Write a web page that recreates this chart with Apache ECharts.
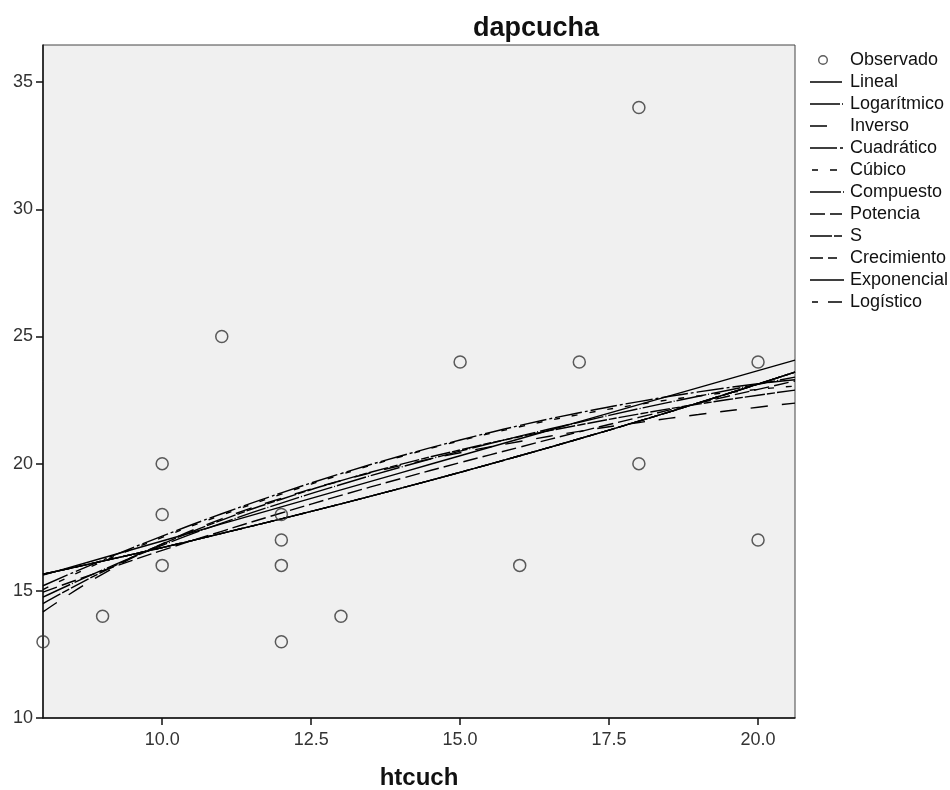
<!DOCTYPE html>
<html>
<head>
<meta charset="utf-8">
<script src="https://cdn.jsdelivr.net/npm/echarts@6/dist/echarts.min.js"></script>
<style>
  html, body { margin: 0; padding: 0; background: #fff; }
  #chart { width: 950px; height: 790px; }
</style>
</head>
<body>
<div id="chart"></div>
<script>
// Observed points (htcuch, dapcucha)
const observedX = [8, 9, 10, 10, 10, 11, 12, 12, 12, 12, 13, 15, 16, 17, 18, 18, 20, 20];
const observedY = [13, 14, 20, 18, 16, 25, 18, 17, 16, 13, 14, 24, 16, 24, 34, 20, 24, 17];

// x positions at which the fitted curves were read
const curveX = [8, 9, 10, 11, 12, 13, 14, 15, 16, 17, 18, 19, 20, 20.62];

// fitted curve values
const lineal      = [15.62, 16.29, 16.96, 17.63, 18.30, 18.97, 19.64, 20.31, 20.98, 21.65, 22.32, 22.99, 23.66, 24.07];
const logaritmico = [14.75, 15.82, 16.79, 17.66, 18.45, 19.18, 19.86, 20.49, 21.08, 21.63, 22.16, 22.65, 23.12, 23.40];
const inverso     = [14.17, 15.66, 16.85, 17.83, 18.64, 19.33, 19.92, 20.43, 20.87, 21.27, 21.62, 21.93, 22.22, 22.38];
const cuadratico  = [15.20, 16.21, 17.15, 18.03, 18.85, 19.61, 20.30, 20.93, 21.50, 22.00, 22.44, 22.82, 23.14, 23.30];
const cubico      = [15.05, 16.15, 17.10, 17.98, 18.80, 19.57, 20.27, 20.90, 21.45, 21.93, 22.33, 22.66, 22.92, 23.05];
const compuesto   = [15.65, 16.17, 16.70, 17.26, 17.83, 18.42, 19.03, 19.66, 20.31, 20.98, 21.67, 22.39, 23.13, 23.60];
const potencia    = [14.95, 15.79, 16.59, 17.34, 18.06, 18.75, 19.41, 20.04, 20.65, 21.25, 21.82, 22.38, 22.92, 23.25];
const sCurve      = [14.50, 15.75, 16.84, 17.78, 18.60, 19.33, 19.97, 20.54, 21.06, 21.52, 21.95, 22.34, 22.69, 22.89];
const crecimiento = [15.65, 16.17, 16.70, 17.26, 17.83, 18.42, 19.03, 19.66, 20.31, 20.98, 21.67, 22.39, 23.13, 23.60];
const exponencial = [15.65, 16.17, 16.70, 17.26, 17.83, 18.42, 19.03, 19.66, 20.31, 20.98, 21.67, 22.39, 23.13, 23.60];
const logistico   = [15.65, 16.17, 16.70, 17.26, 17.83, 18.42, 19.03, 19.66, 20.31, 20.98, 21.67, 22.39, 23.13, 23.60];

const xTicks = [10, 12.5, 15, 17.5, 20];
const yTicks = [10, 15, 20, 25, 30, 35];

const FONT = '"Liberation Sans", Arial, sans-serif';

// line styles: dash pattern in the plot, and the segments drawn in the legend key
const curves = [
  { name: 'Lineal',      data: lineal,      type: 'solid',          key: [[0, 32]] },
  { name: 'Logarítmico', data: logaritmico, type: [30, 2, 1, 2],    key: [[0, 30], [32, 33]] },
  { name: 'Inverso',     data: inverso,     type: [17, 14],         key: [[0, 17]] },
  { name: 'Cuadrático',  data: cuadratico,  type: [27, 3, 3, 3],    key: [[0, 27], [30, 33]] },
  { name: 'Cúbico',      data: cubico,      type: [6, 12],          key: [[2, 8], [20, 27]] },
  { name: 'Compuesto',   data: compuesto,   type: [32, 2, 1, 2],    key: [[0, 31], [33, 34]] },
  { name: 'Potencia',    data: potencia,    type: [15, 5],          key: [[0, 15], [20, 32]] },
  { name: 'S',           data: sCurve,      type: [20, 2, 8, 2],    key: [[0, 22], [24, 32]] },
  { name: 'Crecimiento', data: crecimiento, type: [13, 5, 9, 5],    key: [[0, 13], [18, 27]] },
  { name: 'Exponencial', data: exponencial, type: 'solid',          key: [[0, 34]] },
  { name: 'Logístico',   data: logistico,   type: [6, 10, 14, 3],   key: [[2, 8], [18, 32]] }
];

const ANCHORS = 'M0,0h0.01v0.01h-0.01Z M34.99,13.99h0.01v0.01h-0.01Z ';
function keyPath(segs) {
  return 'path://' + ANCHORS + segs.map(s => `M${s[0]},6.3H${s[1]}V7.7H${s[0]}Z`).join(' ');
}
const circleKey = 'path://' + ANCHORS +
  'M8,7A5,5 0 1 1 18,7A5,5 0 1 1 8,7Z M9.4,7A3.6,3.6 0 1 0 16.6,7A3.6,3.6 0 1 0 9.4,7Z';

const series = [{
  name: 'Observado',
  type: 'scatter',
  symbol: 'circle',
  symbolSize: 12,
  clip: true,
  itemStyle: { color: 'rgba(0,0,0,0)', borderColor: '#333', borderWidth: 1.5 },
  data: observedX.map((x, i) => [x, observedY[i]]),
  z: 5
}];

curves.forEach(c => {
  series.push({
    name: c.name,
    type: 'line',
    symbol: 'none',
    smooth: true,
    clip: true,
    itemStyle: { color: '#000', borderWidth: 0 },
    lineStyle: { color: '#000', width: 1.4, type: c.type },
    data: curveX.map((x, i) => [x, c.data[i]]),
    z: 3
  });
});

const legendData = [{
  name: 'Observado', icon: circleKey,
  itemStyle: { color: '#333', borderWidth: 0 }
}].concat(curves.map(c => ({
  name: c.name, icon: keyPath(c.key),
  itemStyle: { color: '#000', borderWidth: 0 }
})));

const chart = echarts.init(document.getElementById('chart'), null, { renderer: 'canvas' });
chart.setOption({
  animation: false,
  backgroundColor: '#ffffff',
  title: {
    text: 'dapcucha',
    left: 531,
    top: 10,
    textAlign: 'center',
    textStyle: { fontFamily: FONT, fontSize: 27, fontWeight: 'bold', color: '#111' }
  },
  legend: {
    orient: 'vertical',
    left: 810,
    top: 51,
    padding: 0,
    itemWidth: 35,
    itemHeight: 14,
    itemGap: 4,
    textStyle: { fontFamily: FONT, fontSize: 18, color: '#111' },
    data: legendData
  },
  grid: {
    left: 43, top: 45, right: 155, bottom: 72,
    outerBoundsMode: 'none',
    containLabel: false,
    show: true,
    backgroundColor: '#f0f0f0',
    borderColor: '#444',
    borderWidth: 1
  },
  xAxis: {
    type: 'value',
    min: 8,
    max: 20.62,
    name: 'htcuch',
    nameLocation: 'middle',
    nameGap: 48,
    nameTextStyle: { fontFamily: FONT, fontSize: 24, fontWeight: 'bold', color: '#111' },
    splitLine: { show: false },
    axisLine: { show: true, onZero: false, lineStyle: { color: '#111', width: 1.5 } },
    axisTick: { show: true, length: 7, customValues: xTicks, lineStyle: { color: '#111', width: 1.5 } },
    axisLabel: {
      customValues: xTicks,
      fontFamily: FONT, fontSize: 18, color: '#333', margin: 13,
      formatter: v => v.toFixed(1)
    }
  },
  yAxis: {
    type: 'value',
    min: 10,
    max: 36.46,
    splitLine: { show: false },
    axisLine: { show: true, onZero: false, lineStyle: { color: '#111', width: 1.5 } },
    axisTick: { show: true, length: 7, customValues: yTicks, lineStyle: { color: '#111', width: 1.5 } },
    axisLabel: {
      customValues: yTicks,
      fontFamily: FONT, fontSize: 18, color: '#333', margin: 10,
      formatter: v => String(v)
    }
  },
  series: series
});
</script>
</body>
</html>
